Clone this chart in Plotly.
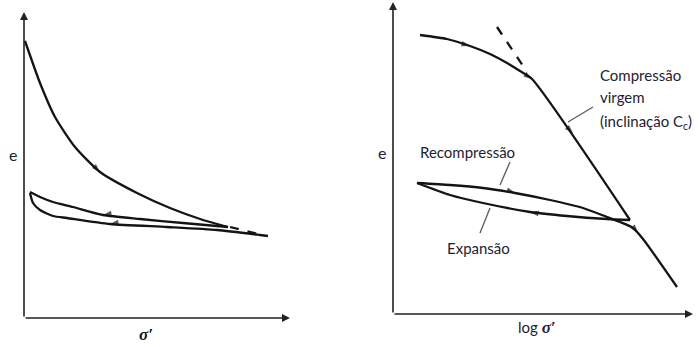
import plotly.graph_objects as go

W, H = 699, 347

# ---------------- data (units: arbitrary, origin at axes corner) -------------
# Left panel: e vs sigma'
L_virgin_x = [1, 16, 31, 51, 76, 113, 146, 179, 204]
L_virgin_y = [277, 235, 201, 171, 146, 125, 110, 98, 91]
L_dash_x = [206, 238]
L_dash_y = [91, 83]
L_upper_x = [6, 16, 29, 49, 79, 116, 159, 204]
L_upper_y = [126, 121, 116, 111, 103, 99, 95, 91]
L_lower_x = [6, 9, 16, 29, 43, 86, 143, 193, 236, 244]
L_lower_y = [125, 115, 108, 102, 100, 94, 91, 88, 83, 82]

# Right panel: e vs log sigma'
R_virgin_x = [27, 54, 77, 97, 114, 127, 139, 237]
R_virgin_y = [279, 275, 268, 260, 251, 243, 235, 94]
R_dash_x = [104, 134]
R_dash_y = [287, 242]
R_exp_x = [237, 214, 174, 137, 90, 57, 24]
R_exp_y = [94, 95, 98, 102, 111, 119, 131]
R_rec_x = [24, 57, 90, 122, 157, 190, 214, 227, 240, 250, 284]
R_rec_y = [131, 129, 126, 121, 114, 106, 97, 92, 86, 75, 27]

# arrow markers: (x_prev, y_prev, x, y)
L_arrows = [(70, 152, 76, 146), (85, 104, 79, 103), (92, 95, 86, 94)]
R_arrows = [(70, 270, 77, 268), (133, 239, 139, 235), (176, 185, 180, 181),
            (114, 124, 122, 121), (143, 101, 137, 102), (241, 86, 245, 81)]

LINE = "#141414"
TXT = "#1e2233"

fig = go.Figure()

def line(x, y, xa, ya, dash="solid", color=LINE, width=2.3):
    fig.add_trace(go.Scatter(x=x, y=y, mode="lines", xaxis=xa, yaxis=ya,
                             line=dict(color=color, width=width, dash=dash, shape="spline", smoothing=0.6),
                             hoverinfo="skip", showlegend=False))

line(L_virgin_x, L_virgin_y, "x", "y")
line(L_dash_x, L_dash_y, "x", "y", dash="dash")
line(L_upper_x, L_upper_y, "x", "y")
line(L_lower_x, L_lower_y, "x", "y")

line(R_virgin_x, R_virgin_y, "x2", "y2")
line(R_dash_x, R_dash_y, "x2", "y2", dash="dash")
line(R_exp_x, R_exp_y, "x2", "y2")
line(R_rec_x, R_rec_y, "x2", "y2")

for arrows, xa, ya in [(L_arrows, "x", "y"), (R_arrows, "x2", "y2")]:
    for (x0, y0, x1, y1) in arrows:
        fig.add_trace(go.Scatter(x=[x0, x1], y=[y0, y1], mode="markers", xaxis=xa, yaxis=ya,
                                 marker=dict(symbol="arrow", angleref="previous", size=[0, 9],
                                             color=LINE, line=dict(width=0)),
                                 hoverinfo="skip", showlegend=False))

# pointer lines for the labels (right panel)
ptr_sets = [([200, 175], [207, 192]), ([117, 107], [152, 129]), ([97, 87], [106, 81])]
for px, py in ptr_sets:
    fig.add_trace(go.Scatter(x=px, y=py, mode="lines", xaxis="x2", yaxis="y2",
                             line=dict(color="#555a66", width=1.3),
                             hoverinfo="skip", showlegend=False))

# axes domains (pixel geometry)
def xd(a, b):
    return [a / W, b / W]

def yd(top, bottom):
    return [1 - bottom / H, 1 - top / H]

ax_common = dict(showgrid=False, zeroline=False, showticklabels=False, ticks="", showline=False)
fig.update_layout(
    width=W, height=H, margin=dict(l=0, r=0, t=0, b=0),
    paper_bgcolor="white", plot_bgcolor="white",
    xaxis=dict(domain=xd(24, 290), range=[0, 266], anchor="y", **ax_common),
    yaxis=dict(domain=yd(12, 318), range=[0, 306], anchor="x", **ax_common),
    xaxis2=dict(domain=xd(393, 693), range=[0, 300], anchor="y2", **ax_common),
    yaxis2=dict(domain=yd(2, 314), range=[0, 312], anchor="x2", **ax_common),
)

ann = []
# axis lines with arrowheads
for xr, yr, xmax, ymax in [("x", "y", 266, 306), ("x2", "y2", 300, 312)]:
    ann.append(dict(x=xmax, y=0, ax=0, ay=0, xref=xr, yref=yr, axref=xr, ayref=yr,
                    showarrow=True, arrowhead=2, arrowsize=1, arrowwidth=1.6, arrowcolor="#222", text=""))
    ann.append(dict(x=0, y=ymax, ax=0, ay=0, xref=xr, yref=yr, axref=xr, ayref=yr,
                    showarrow=True, arrowhead=2, arrowsize=1, arrowwidth=1.6, arrowcolor="#222", text=""))

def ptext(txt, x, y, size=15, xanchor="center", family="Lato", color=TXT):
    ann.append(dict(text=txt, x=x / W, y=1 - y / H, xref="paper", yref="paper", showarrow=False,
                    xanchor=xanchor, yanchor="middle", font=dict(family=family, size=size, color=color)))

ptext("e", 13, 154, size=16)
ptext("e", 382, 152, size=16)
ptext("<b><i>σ′</i></b>", 146, 334, size=17, family="Liberation Serif", color="#111")
ptext("log <span style='font-family:Liberation Serif;font-size:17px'><b><i>σ′</i></b></span>", 537, 327, size=15)

def dtext(txt, x, y, xanchor="left"):
    ann.append(dict(text=txt, x=x, y=y, xref="x2", yref="y2", showarrow=False,
                    xanchor=xanchor, yanchor="middle", font=dict(family="Lato", size=15, color=TXT)))

dtext("Compressão", 205, 239)
dtext("virgem", 205, 217)
dtext("(inclinação C<sub>c</sub>)", 205, 192)
dtext("Recompressão", 74, 162, xanchor="center")
dtext("Expansão", 85, 66, xanchor="center")

fig.update_layout(annotations=ann)
fig.write_html("out.html")
